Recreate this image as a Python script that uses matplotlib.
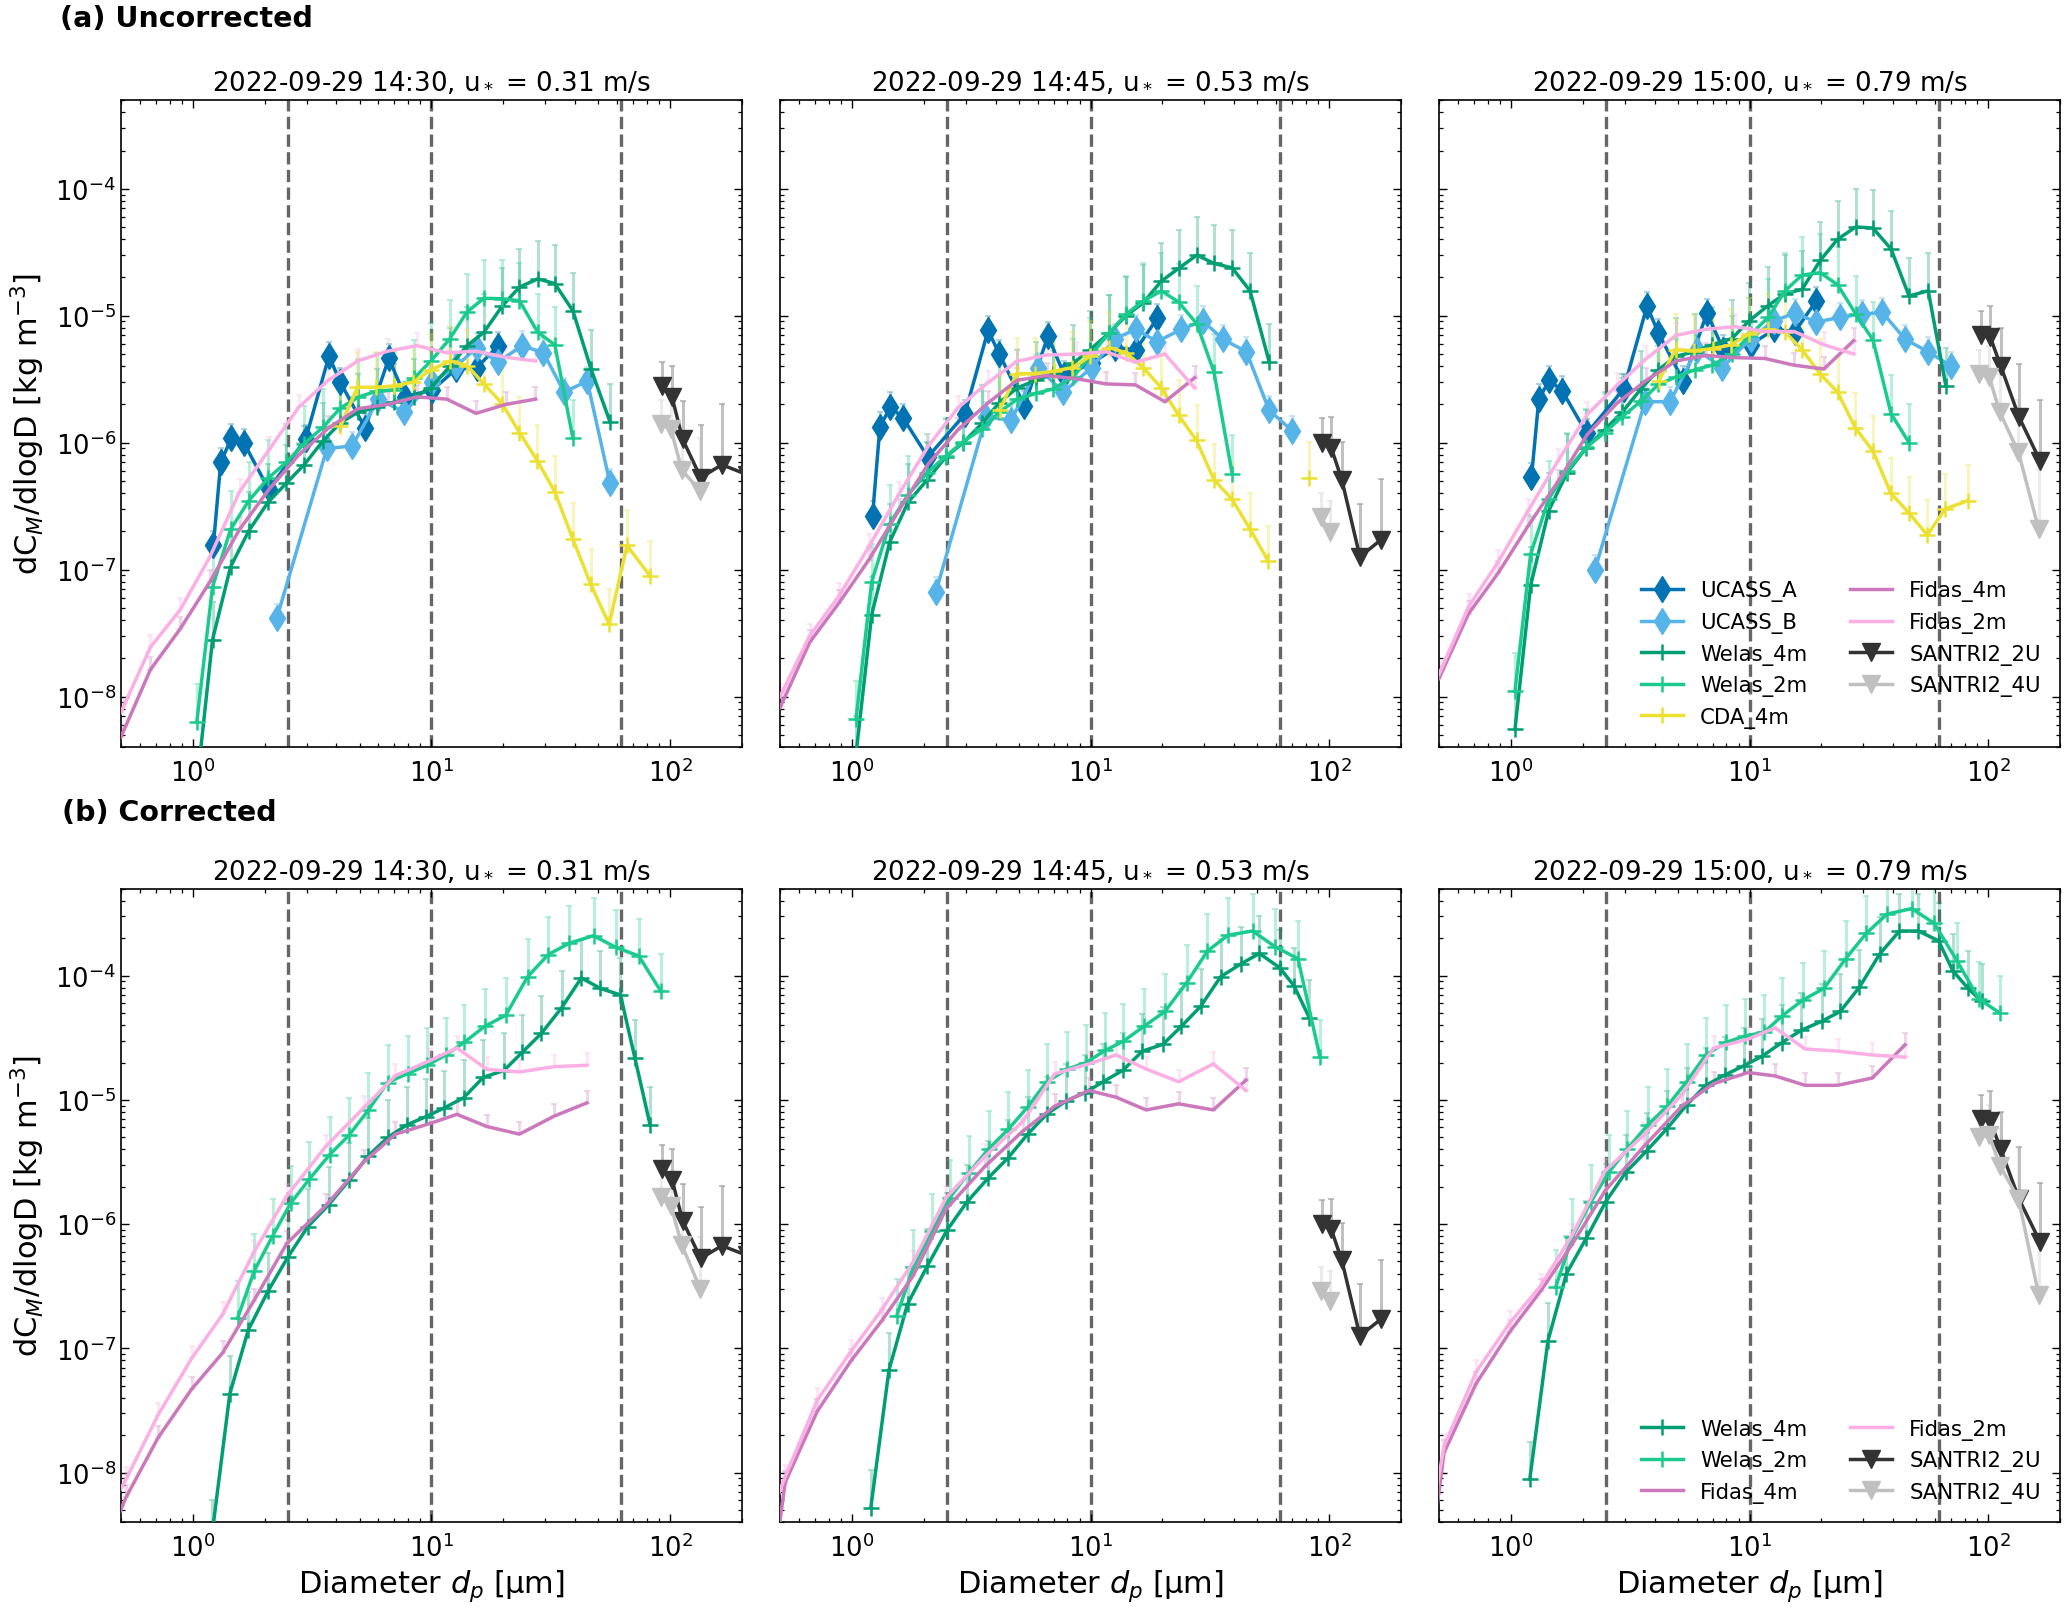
import numpy as np
import matplotlib
matplotlib.use("Agg")
from matplotlib import pyplot as plt

nan = np.nan

times = ["2022-09-29 14:30", "2022-09-29 14:45", "2022-09-29 15:00"]
ustar = [0.31, 0.53, 0.79]
cut_sizes = [2.5, 10, 62.5]

# ---------------- uncorrected (a) ----------------
ucass_a_d = [1.22, 1.31, 1.45, 1.64, 2.08, 2.97, 3.72, 4.15, 5.28, 6.63, 7.77, 10.1, 12.7, 15.5, 19.0]
ucass_a = [
    [1.55e-7, 7.0e-7, 1.08e-6, 9.9e-7, 4.3e-7, 1.06e-6, 4.8e-6, 3.0e-6, 1.3e-6, 4.6e-6, 2.3e-6, 2.6e-6, 3.8e-6, 3.9e-6, 5.75e-6],
    [2.65e-7, 1.33e-6, 1.91e-6, 1.56e-6, 7.7e-7, 1.67e-6, 7.65e-6, 4.98e-6, 1.96e-6, 6.9e-6, 3.4e-6, 4.2e-6, 5.6e-6, 5.4e-6, 9.5e-6],
    [5.35e-7, 2.21e-6, 3.1e-6, 2.56e-6, 1.18e-6, 2.65e-6, 1.19e-5, 7.3e-6, 3.06e-6, 1.05e-5, 5.4e-6, 5.9e-6, 7.8e-6, 7.5e-6, 1.3e-5],
]

ucass_b_d = [2.25, 3.65, 4.65, 6.0, 7.7, 10.1, 12.7, 15.5, 19.0, 24.0, 29.5, 36.0, 45.0, 56.0, 70.0]
ucass_b = [
    [4.15e-8, 9.0e-7, 9.4e-7, 2.2e-6, 1.74e-6, 3.0e-6, 4.0e-6, 5.6e-6, 4.3e-6, 5.8e-6, 5.1e-6, 2.5e-6, 3.05e-6, 4.8e-7, nan],
    [6.7e-8, 1.6e-6, 1.5e-6, 3.9e-6, 2.5e-6, 3.9e-6, 6.6e-6, 7.8e-6, 6.25e-6, 7.8e-6, 9.1e-6, 6.5e-6, 5.2e-6, 1.8e-6, 1.24e-6],
    [1.0e-7, 2.1e-6, 2.1e-6, 5.4e-6, 3.9e-6, 6.6e-6, 9.1e-6, 1.05e-5, 8.9e-6, 9.7e-6, 1.03e-5, 1.06e-5, 6.5e-6, 5.2e-6, 4.0e-6],
]

welas_d = [1.04, 1.21, 1.44, 1.72, 2.07, 2.47, 2.93, 3.51, 4.15, 4.93, 5.91, 6.96, 8.43, 9.96,
           11.96, 14.1, 16.6, 19.8, 23.4, 27.9, 32.9, 39.2, 46.6, 56.1, 66.5]
welas_4m = [
    [2.0e-9, 2.8e-8, 1.05e-7, 2.03e-7, 3.4e-7, 4.8e-7, 6.7e-7, 1.03e-6, 1.43e-6, 1.74e-6, 1.9e-6, 2.09e-6, 2.28e-6,
     2.7e-6, 4.0e-6, 5.8e-6, 7.4e-6, 1.19e-5, 1.68e-5, 1.95e-5, 1.79e-5, 1.09e-5, 3.83e-6, 1.45e-6, nan],
    [3.5e-9, 4.4e-8, 1.65e-7, 3.4e-7, 5.1e-7, 7.7e-7, 1.0e-6, 1.42e-6, 2.07e-6, 2.7e-6, 3.1e-6, 3.46e-6, 4.2e-6,
     5.4e-6, 7.3e-6, 1.0e-5, 1.26e-5, 1.87e-5, 2.36e-5, 3.0e-5, 2.58e-5, 2.38e-5, 1.57e-5, 4.3e-6, nan],
    [5.5e-9, 7.5e-8, 2.9e-7, 5.8e-7, 9.1e-7, 1.26e-6, 1.74e-6, 2.65e-6, 3.75e-6, 4.8e-6, 5.2e-6, 5.9e-6, 6.6e-6,
     9.1e-6, 1.2e-5, 1.49e-5, 1.61e-5, 2.73e-5, 4.0e-5, 5.0e-5, 4.9e-5, 3.35e-5, 1.43e-5, 1.57e-5, 2.8e-6],
]
welas_2m = [
    [6.3e-9, 7.3e-8, 2.07e-7, 3.5e-7, 5.25e-7, 7.0e-7, 9.8e-7, 1.32e-6, 1.87e-6, 2.28e-6, 2.55e-6, 2.6e-6, 3.2e-6,
     4.4e-6, 6.6e-6, 1.07e-5, 1.37e-5, 1.36e-5, 1.31e-5, 7.4e-6, 5.9e-6, 1.08e-6, nan, nan, nan],
    [6.6e-9, 8.0e-8, 2.3e-7, 3.9e-7, 5.8e-7, 7.8e-7, 1.02e-6, 1.28e-6, 1.74e-6, 2.2e-6, 2.44e-6, 2.65e-6, 3.27e-6,
     4.8e-6, 7.3e-6, 1.03e-5, 1.3e-5, 1.57e-5, 1.28e-5, 8.6e-6, 3.6e-6, 5.7e-7, nan, nan, nan],
    [1.1e-8, 1.32e-7, 3.6e-7, 6.0e-7, 9.2e-7, 1.2e-6, 1.6e-6, 2.12e-6, 2.87e-6, 3.3e-6, 3.75e-6, 4.07e-6, 5.0e-6,
     6.9e-6, 9.7e-6, 1.57e-5, 2.09e-5, 2.18e-5, 1.75e-5, 1.03e-5, 6.45e-6, 1.69e-6, 1.0e-6, nan, nan],
]

cda_d = [4.16, 4.9, 5.86, 7.0, 8.4, 9.96, 12.0, 14.1, 16.6, 19.8, 23.4, 27.8, 32.9, 39.1, 46.5, 55.6, 66.0, 82.5]
cda_4m = [
    [1.35e-6, 2.73e-6, 2.73e-6, 2.8e-6, 3.0e-6, 3.75e-6, 4.4e-6, 4.05e-6, 2.9e-6, 2.03e-6, 1.2e-6, 7.2e-7,
     4.1e-7, 1.75e-7, 7.7e-8, 3.7e-8, 1.55e-7, 8.9e-8],
    [1.8e-6, 3.5e-6, 3.5e-6, 3.65e-6, 3.9e-6, 4.8e-6, 5.6e-6, 5.1e-6, 3.9e-6, 2.7e-6, 1.64e-6, 1.04e-6,
     5.1e-7, 3.6e-7, 2.1e-7, 1.16e-7, nan, 5.3e-7],
    [3.06e-6, 5.4e-6, 5.3e-6, 5.5e-6, 5.9e-6, 7.2e-6, 7.8e-6, 7.4e-6, 5.4e-6, 3.46e-6, 2.5e-6, 1.3e-6,
     8.6e-7, 4.0e-7, 2.8e-7, 1.87e-7, 3.0e-7, 3.5e-7],
]

fidas_d = [0.5, 0.665, 0.885, 1.18, 1.57, 2.09, 2.78, 3.7, 4.92, 6.55, 8.7, 11.6, 15.4, 20.5, 27.3]
fidas_4m = [
    [4.8e-9, 1.63e-8, 3.4e-8, 8.0e-8, 2.07e-7, 4.3e-7, 8.0e-7, 1.3e-6, 1.85e-6, 2.0e-6, 2.29e-6, 2.2e-6, 1.7e-6, 2.0e-6, 2.2e-6],
    [8.2e-9, 2.67e-8, 5.5e-8, 1.2e-7, 2.9e-7, 6.8e-7, 1.26e-6, 2.04e-6, 3.1e-6, 3.37e-6, 3.19e-6, 2.9e-6, 2.85e-6, 2.1e-6, 3.24e-6],
    [1.39e-8, 4.5e-8, 9.4e-8, 2.2e-7, 4.9e-7, 1.16e-6, 2.04e-6, 3.1e-6, 4.4e-6, 4.86e-6, 4.67e-6, 4.6e-6, 4.07e-6, 3.8e-6, 6.35e-6],
]
fidas_2m = [
    [7.5e-9, 2.45e-8, 4.8e-8, 1.26e-7, 4.1e-7, 8.8e-7, 1.9e-6, 3.1e-6, 4.4e-6, 5.25e-6, 5.8e-6, 5.1e-6, 5.25e-6, 4.7e-6, 4.4e-6],
    [1.0e-8, 3.0e-8, 6.25e-8, 1.52e-7, 3.9e-7, 9.4e-7, 1.88e-6, 2.95e-6, 4.37e-6, 4.9e-6, 4.98e-6, 5.2e-6, 4.3e-6, 4.98e-6, 2.7e-6],
    [1.5e-8, 5.1e-8, 1.15e-7, 2.9e-7, 7.1e-7, 1.67e-6, 2.82e-6, 4.6e-6, 7.0e-6, 7.8e-6, 8.2e-6, 7.5e-6, 7.5e-6, 5.9e-6, 5.0e-6],
]

santri_2u_d = [93, 102, 113, 134.5, 165, 210]
santri_2u = [
    [2.8e-6, 2.28e-6, 1.06e-6, 5.3e-7, 6.7e-7, 5.6e-7],
    [1.0e-6, 9.1e-7, 5.1e-7, 1.26e-7, 1.72e-7, nan],
    [7.0e-6, 6.8e-6, 4.0e-6, 1.6e-6, 7.2e-7, nan],
]
santri_4u_d = [92, 101, 112, 134, 163]
santri_4u = [
    [1.39e-6, 1.27e-6, 6.1e-7, 4.15e-7, nan],
    [2.58e-7, 1.98e-7, nan, nan, nan],
    [3.46e-6, 3.3e-6, 1.73e-6, 8.4e-7, 2.07e-7],
]

# ---------------- corrected (b) ----------------
welas_4m_cd = [1.2, 1.43, 1.71, 2.07, 2.5, 3.03, 3.71, 4.52, 5.45, 6.56, 7.9, 9.45, 11.3, 13.65,
               16.5, 20.1, 24.0, 28.9, 35.1, 42.5, 51.0, 62.0, 71.2, 82.5, 94.0]
welas_4m_c = [
    [3.0e-9, 4.3e-8, 1.41e-7, 2.9e-7, 5.4e-7, 9.5e-7, 1.43e-6, 2.25e-6, 3.56e-6, 4.98e-6, 6.3e-6, 7.3e-6, 8.6e-6,
     1.04e-5, 1.52e-5, 1.72e-5, 2.41e-5, 3.43e-5, 5.5e-5, 9.6e-5, 7.9e-5, 7.0e-5, 2.19e-5, 6.3e-6, nan],
    [5.2e-9, 6.7e-8, 2.27e-7, 4.6e-7, 8.9e-7, 1.5e-6, 2.33e-6, 3.43e-6, 5.3e-6, 7.7e-6, 9.8e-6, 1.14e-5, 1.4e-5,
     1.73e-5, 2.47e-5, 2.8e-5, 3.9e-5, 5.65e-5, 9.8e-5, 1.24e-4, 1.51e-4, 1.16e-4, 8.3e-5, 4.6e-5, nan],
    [8.8e-9, 1.15e-7, 4.0e-7, 7.7e-7, 1.52e-6, 2.61e-6, 3.9e-6, 5.9e-6, 9.1e-6, 1.31e-5, 1.59e-5, 1.88e-5, 2.25e-5,
     2.89e-5, 3.64e-5, 4.3e-5, 5.15e-5, 8.1e-5, 1.49e-4, 2.29e-4, 2.29e-4, 1.91e-4, 1.09e-4, 7.9e-5, 6.2e-5],
]

welas_2m_cd = [1.54, 1.81, 2.16, 2.57, 3.08, 3.75, 4.52, 5.45, 6.55, 7.95, 9.6, 11.5, 13.7, 16.7,
               20.5, 25.3, 30.9, 37.7, 47.8, 59.3, 74.0, 91.5, 112.0]
welas_2m_c = [
    [1.74e-7, 4.2e-7, 8.0e-7, 1.47e-6, 2.3e-6, 3.63e-6, 5.2e-6, 8.3e-6, 1.38e-5, 1.63e-5, 1.9e-5, 2.3e-5, 2.9e-5,
     3.9e-5, 4.8e-5, 9.8e-5, 1.48e-4, 1.82e-4, 2.1e-4, 1.69e-4, 1.44e-4, 7.5e-5, nan],
    [1.82e-7, 4.5e-7, 8.75e-7, 1.63e-6, 2.57e-6, 4.05e-6, 5.8e-6, 8.75e-6, 1.4e-5, 1.76e-5, 2.0e-5, 2.5e-5, 2.96e-5,
     3.9e-5, 5.15e-5, 8.8e-5, 1.58e-4, 2.12e-4, 2.29e-4, 1.71e-4, 1.37e-4, 2.21e-5, nan],
    [3.1e-7, 7.9e-7, 1.5e-6, 2.61e-6, 4.05e-6, 6.3e-6, 8.9e-6, 1.4e-5, 2.3e-5, 2.9e-5, 3.27e-5, 3.5e-5, 4.75e-5,
     6.35e-5, 7.9e-5, 1.37e-4, 2.2e-4, 3.13e-4, 3.47e-4, 2.65e-4, 1.32e-4, 6.5e-5, 5.0e-5],
]

fidas_cd = [0.385, 0.525, 0.715, 0.99, 1.335, 1.8, 2.48, 3.6, 5.2, 7.07, 9.85, 12.8, 17.1, 23.4, 32.7, 44.8]
fidas_4m_c = [
    [1.5e-9, 6.3e-9, 1.9e-8, 4.7e-8, 9.2e-8, 2.4e-7, 7.0e-7, 1.4e-6, 3.15e-6, 5.3e-6, 6.45e-6, 7.65e-6, 6.1e-6, 5.3e-6, 7.4e-6, 9.45e-6],
    [1.0e-10, 8.3e-9, 3.1e-8, 7.9e-8, 1.67e-7, 3.8e-7, 1.32e-6, 2.9e-6, 5.6e-6, 8.9e-6, 1.19e-5, 1.05e-5, 8.3e-6, 9.3e-6, 8.3e-6, 1.44e-5],
    [1.5e-10, 1.45e-8, 5.2e-8, 1.36e-7, 2.9e-7, 6.8e-7, 1.85e-6, 4.2e-6, 8.9e-6, 1.35e-5, 1.66e-5, 1.56e-5, 1.31e-5, 1.31e-5, 1.5e-5, 2.77e-5],
]
fidas_2m_c = [
    [3.0e-9, 8.8e-9, 2.9e-8, 8.3e-8, 1.88e-7, 5.9e-7, 1.69e-6, 4.2e-6, 8.6e-6, 1.57e-5, 2.07e-5, 2.62e-5, 1.76e-5, 1.68e-5, 1.85e-5, 1.9e-5],
    [2.0e-9, 9.2e-9, 3.8e-8, 9.4e-8, 2.05e-7, 4.9e-7, 1.63e-6, 3.5e-6, 6.7e-6, 1.62e-5, 1.95e-5, 2.3e-5, 1.77e-5, 1.4e-5, 1.95e-5, 1.19e-5],
    [5.0e-10, 1.64e-8, 6.45e-8, 1.6e-7, 3.2e-7, 8.05e-7, 2.68e-6, 5.2e-6, 1.1e-5, 2.61e-5, 3.08e-5, 3.8e-5, 2.57e-5, 2.47e-5, 2.3e-5, 2.21e-5],
]

santri_4u_c = [
    [1.66e-6, 1.4e-6, 6.8e-7, 3.0e-7, nan],
    [2.9e-7, 2.4e-7, nan, nan, nan],
    [5.0e-6, 5.2e-6, 2.96e-6, 1.6e-6, 2.68e-7],
]

# upper relative uncertainties, estimated from the light error bars
rel_ucass = 0.3
rel_welas = 1.0
rel_cda = 0.9
rel_fidas = 0.25
rel_santri = [0.55, 0.75, 1.0, 1.6, 2.0, 2.0]

style = {
    "UCASS_A": dict(color="#0173B2", marker="d", ms=13, mew=1.0),
    "UCASS_B": dict(color="#56B4E9", marker="d", ms=13, mew=1.0),
    "Welas_4m": dict(color="#029E73", marker="+", ms=12, mew=1.8),
    "Welas_2m": dict(color="#1BCB8E", marker="+", ms=12, mew=1.8),
    "CDA_4m": dict(color="#ECE133", marker="+", ms=12, mew=1.8),
    "Fidas_4m": dict(color="#CC78BC", marker=None, ms=0, mew=0),
    "Fidas_2m": dict(color="#FBAFE4", marker=None, ms=0, mew=0),
    "SANTRI2_2U": dict(color="#333333", marker="v", ms=13, mew=1.0),
    "SANTRI2_4U": dict(color="#C0C0C0", marker="v", ms=13, mew=1.0),
}


def draw(ax, x, y, name, rel):
    x = np.asarray(x, dtype=float)
    y = np.asarray(y, dtype=float)
    st = style[name]
    up = y * np.asarray(rel, dtype=float)[:len(y)] if np.ndim(rel) else y * rel
    ax.errorbar(x, y, yerr=[np.zeros_like(y), up], fmt="none", ecolor=st["color"],
                alpha=0.3, elinewidth=2.2, capsize=2.5, capthick=1.5, zorder=2)
    ax.plot(x, y, color=st["color"], marker=st["marker"], ms=st["ms"], mew=st["mew"],
            lw=2.5, label=name, zorder=3)


fig = plt.figure(figsize=(20.67, 16.08), dpi=100)
lefts = [0.0585, 0.3774, 0.6962]
width = 0.3004
rows = [(0.5348, 0.4024), (0.0529, 0.3937)]

axes = [[fig.add_axes([l, b, width, h]) for l in lefts] for (b, h) in rows]

for i in range(3):
    ax = axes[0][i]
    draw(ax, ucass_a_d, ucass_a[i], "UCASS_A", rel_ucass)
    draw(ax, ucass_b_d, ucass_b[i], "UCASS_B", rel_ucass)
    draw(ax, welas_d, welas_4m[i], "Welas_4m", rel_welas)
    draw(ax, welas_d, welas_2m[i], "Welas_2m", rel_welas)
    draw(ax, cda_d, cda_4m[i], "CDA_4m", rel_cda)
    draw(ax, fidas_d, fidas_4m[i], "Fidas_4m", rel_fidas)
    draw(ax, fidas_d, fidas_2m[i], "Fidas_2m", rel_fidas)
    draw(ax, santri_2u_d, santri_2u[i], "SANTRI2_2U", rel_santri)
    draw(ax, santri_4u_d, santri_4u[i], "SANTRI2_4U", rel_santri)

    ax = axes[1][i]
    draw(ax, welas_4m_cd, welas_4m_c[i], "Welas_4m", rel_welas)
    draw(ax, welas_2m_cd, welas_2m_c[i], "Welas_2m", rel_welas)
    draw(ax, fidas_cd, fidas_4m_c[i], "Fidas_4m", rel_fidas)
    draw(ax, fidas_cd, fidas_2m_c[i], "Fidas_2m", rel_fidas)
    draw(ax, santri_2u_d, santri_2u[i], "SANTRI2_2U", rel_santri)
    draw(ax, santri_4u_d, santri_4u_c[i], "SANTRI2_4U", rel_santri)

for r in range(2):
    for i in range(3):
        ax = axes[r][i]
        for c in cut_sizes:
            ax.axvline(c, color="#666666", ls="--", lw=2.4, zorder=1)
        ax.set_xscale("log")
        ax.set_yscale("log")
        ax.set_xlim(0.5, 200)
        ax.set_ylim(4e-9, 5e-4)
        ax.set_title(f"{times[i]}, u$_*$ = {ustar[i]:.2f} m/s", fontsize=18.8, pad=8)
        ax.tick_params(which="both", direction="in", top=True, right=True, labelsize=18.5)
        ax.tick_params(axis="x", which="both", pad=8)
        ax.tick_params(which="major", length=5.5, width=1.0)
        ax.tick_params(which="minor", length=3.0, width=0.9)
        for s in ax.spines.values():
            s.set_linewidth(1.2)
        if i == 0:
            ax.set_ylabel("dC$_M$/dlogD [kg m$^{-3}$]", fontsize=22, labelpad=6)
        else:
            ax.tick_params(labelleft=False)
        if r == 1:
            ax.set_xlabel("Diameter $d_p$ [µm]", fontsize=22, labelpad=4)

axes[0][2].legend(loc="lower right", ncol=2, frameon=False, fontsize=15.3)
axes[1][2].legend(loc="lower right", ncol=2, frameon=False, fontsize=15.3)

fig.text(0.029, 0.983, "(a) Uncorrected", fontsize=20.5, fontweight="bold", va="baseline")
fig.text(0.030, 0.4894, "(b) Corrected", fontsize=20.5, fontweight="bold", va="baseline")

fig.savefig("out.png", dpi=100)
